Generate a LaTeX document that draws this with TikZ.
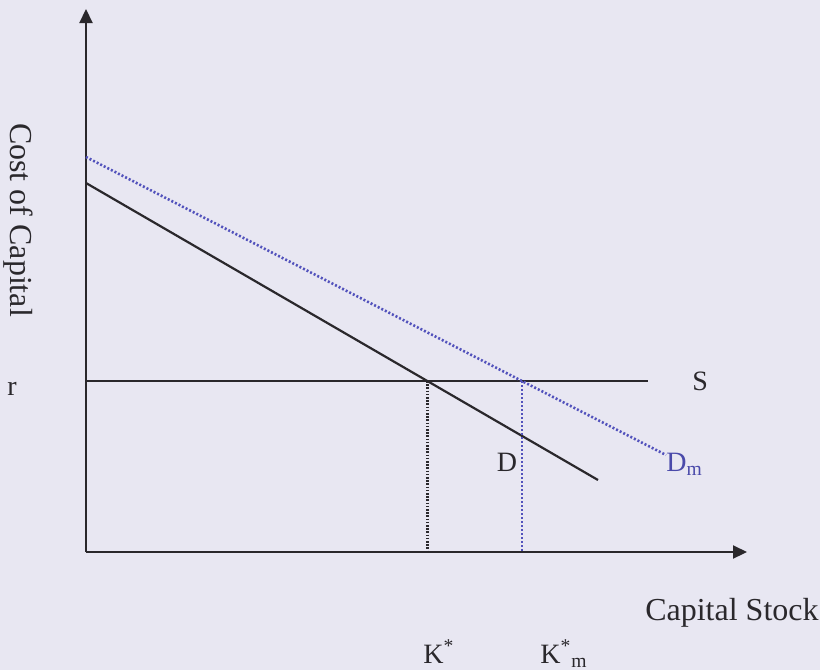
\documentclass[tikz,border=0pt]{standalone}
\usepackage{fontspec}
\setmainfont{Liberation Serif}
\usetikzlibrary{arrows.meta}
\usetikzlibrary{positioning}
\definecolor{paperBg}{HTML}{E8E7F2}
\definecolor{inkGray}{HTML}{2A282C}
\definecolor{dotBlue}{HTML}{5252BC}
\definecolor{labelBlue}{HTML}{4A4AAA}

\begin{document}
\begin{tikzpicture}[x=0.5pt, y=-0.5pt, inner sep=0pt,
    axis/.style={draw=inkGray, line width=1.1pt, -{Triangle[length=7pt, width=6.5pt]}},
    curve/.style={draw=inkGray, line width=1.1pt},
    dotcurve/.style={draw=dotBlue, line width=1.3pt, dash pattern=on 1pt off 1pt},
    dropK/.style={draw=inkGray, line width=1.2pt, dash pattern=on 0.8pt off 0.8pt},
    dropKm/.style={draw=dotBlue, line width=1.3pt, dash pattern=on 1pt off 1pt},
    lbl/.style={font=\fontsize{14}{17}\selectfont, text=inkGray},
    title/.style={font=\fontsize{16}{19}\selectfont, text=inkGray}]

    \fill [paperBg] (0,0) rectangle (820,670);
    \useasboundingbox (0,0) rectangle (820,670);

    \coordinate (origin) at (86,552);
    \coordinate (ytip) at (86,9);
    \coordinate (xtip) at (747,552);
    \coordinate (r_left) at (86,381);
    \coordinate (s_end) at (648,381);
    \coordinate (d_top) at (86,183);
    \coordinate (d_end) at (598,480);
    \coordinate (dm_top) at (86,157);
    \coordinate (dm_end) at (666,455);
    \coordinate (eq) at (intersection of d_top--d_end and r_left--s_end);
    \coordinate (eq_m) at (intersection of dm_top--dm_end and r_left--s_end);

    \node (r) [lbl] at (12,389) {r};
    \node (s) [lbl, right=22pt of s_end] {S};
    \node (d) [lbl] at (507,462) {D};
    \node (dm) [lbl, text=labelBlue, anchor=west] at (666,464) {D\textsubscript{m}};
    \node (kstar) [lbl, anchor=base west] at (423,663) {K\textsuperscript{*}};
    \node (kstar_m) [lbl, anchor=base west] at (540,663) {K\textsuperscript{*}\textsubscript{m}};
    \node (xtitle) [title, anchor=base east] at (819,620) {Capital Stock};
    \node (ytitle) [title, rotate=-90] at (18,220) {Cost of Capital};

    \draw [axis] (origin) -- (ytip);
    \draw [axis] (origin) -- (xtip);
    \draw [curve] (r_left) -- (s_end);
    \draw [curve] (d_top) -- (d_end);
    \draw [dotcurve] (dm_top) -- (dm_end);
    \draw [dropK] (eq) -- (eq |- origin);
    \draw [dropKm] (eq_m) -- (eq_m |- origin);

\end{tikzpicture}
\end{document}
